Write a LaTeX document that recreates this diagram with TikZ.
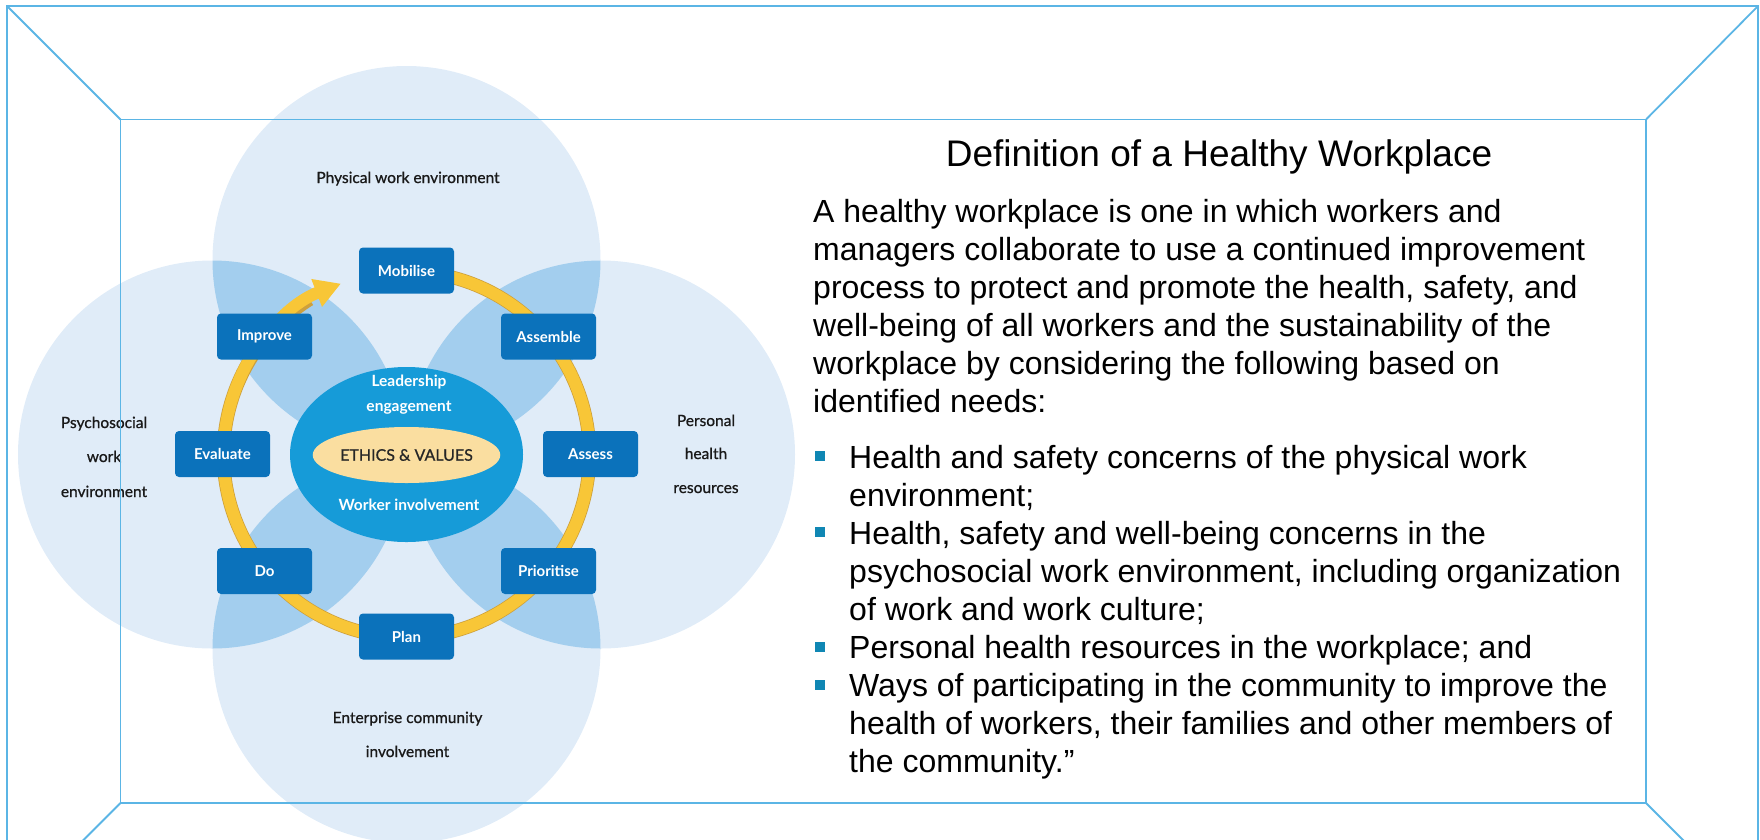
\documentclass[tikz,border=0pt]{standalone}
\usepackage{fontspec}
\setmainfont{Liberation Sans}
\newfontfamily\lato{Lato}
\newfontfamily\latomed[FakeBold=0.8]{Lato}
\usetikzlibrary{shapes.geometric,arrows.meta}
\definecolor{framec}{RGB}{91,181,229}
\definecolor{circc}{RGB}{224,236,248}
\definecolor{lensc}{RGB}{163,206,238}
\definecolor{boxc}{RGB}{11,114,187}
\definecolor{corec}{RGB}{22,155,216}
\definecolor{beige}{RGB}{250,222,160}
\definecolor{ringc}{RGB}{248,198,55}
\definecolor{ringedge}{RGB}{205,160,60}
\definecolor{bulc}{RGB}{16,135,180}
\begin{document}
\begin{tikzpicture}[x=1pt,y=-1pt,
  framel/.style={draw=framec, line width=1.8pt},
  petal/.style={fill=circc},
  lens/.style={fill=lensc},
  stepbox/.style={rounded corners=4pt, fill=boxc, minimum width=95pt, minimum height=46pt, inner sep=0pt, text=white, font=\lato\bfseries\fontsize{15}{17}\selectfont},
  lbl/.style={anchor=base, inner sep=0pt, text=black!90, font=\latomed\fontsize{15.5}{17}\selectfont},
  wlbl/.style={anchor=base, inner sep=0pt, text=white, font=\lato\bfseries\fontsize{15.5}{17}\selectfont},
  txt/.style={anchor=base west, inner sep=0pt, text=black, font=\fontsize{32}{38}\selectfont},
  bul/.style={fill=bulc, minimum size=10pt, inner sep=0pt}
]
\useasboundingbox (0,0) rectangle (1760,839);
\clip (0,0) rectangle (1760,839);
% petal circles
\coordinate (ctop) at (406.5,260);
\coordinate (cbot) at (406.5,649);
\coordinate (cleft) at (212,454.5);
\coordinate (cright) at (601,454.5);
\foreach \c in {ctop,cbot,cleft,cright} \fill[petal] (\c) circle[radius=194];
\begin{scope}
  \clip (ctop) circle[radius=194];
  \fill[lens] (cleft) circle[radius=194];
  \fill[lens] (cright) circle[radius=194];
\end{scope}
\begin{scope}
  \clip (cbot) circle[radius=194];
  \fill[lens] (cleft) circle[radius=194];
  \fill[lens] (cright) circle[radius=194];
\end{scope}
% core
\node[ellipse, fill=corec, minimum width=233pt, minimum height=175pt, inner sep=0pt] (core) at (406.5,454.5) {};
% ring
\draw[ringedge, line width=13.5pt] ([shift={(-78:183)}]core.center) arc[start angle=-78, end angle=238, radius=183];
\draw[ringc, line width=12pt, -{Triangle[length=26pt,width=28pt]}] ([shift={(-78:183)}]core.center) arc[start angle=-78, end angle=249, radius=183];
% inner ellipse
\node[ellipse, fill=beige, minimum width=157pt, minimum height=56pt, inner sep=0pt,
  font=\latomed\fontsize{16}{18}\selectfont, text=black!85] (ethics) at (406.5,455) {ETHICS \& VALUES};
\node[wlbl] (lead) at (409,386) {Leadership};
\node[wlbl] (eng) at (409,411) {engagement};
\node[wlbl] (work) at (409,510) {Worker involvement};
% steps
\node[stepbox] (mob) at (406.5,270.5) {Mobilise};
\node[stepbox] (asb) at (548.5,336.5) {Assemble};
\node[stepbox] (ass) at (590.5,454) {Assess};
\node[stepbox] (pri) at (548.5,571) {Prioritise};
\node[stepbox] (pla) at (406.5,636.5) {Plan};
\node[stepbox] (do) at (264.5,571) {Do};
\node[stepbox] (eva) at (222.5,454) {Evaluate};
\node[stepbox] (imp) at (264.5,336.5) {Improve};
% petal labels
\node[lbl] (phys) at (408,183) {Physical work environment};
\node[lbl] (psy1) at (104,428) {Psychosocial};
\node[lbl] (psy2) at (104,462) {work};
\node[lbl] (psy3) at (104,497) {environment};
\node[lbl] (per1) at (706,426) {Personal};
\node[lbl] (per2) at (706,459) {health};
\node[lbl] (per3) at (706,493) {resources};
\node[lbl] (ent1) at (407.5,723) {Enterprise community};
\node[lbl] (ent2) at (407.5,757) {involvement};
% frame
\coordinate (o1) at (7,6);
\coordinate (o2) at (1758,6);
\coordinate (i1) at (120.5,119.5);
\coordinate (i2) at (1646,119.5);
\coordinate (i3) at (1646,803);
\coordinate (i4) at (120.5,803);
\coordinate (b1) at (7,845);
\coordinate (b2) at (1758,845);
\coordinate (d3) at (1688,845);
\coordinate (d4) at (78.5,845);
\draw[framel] (b1) -- (o1) -- (o2) -- (b2);
\draw[framel] (o1) -- (i1);
\draw[framel] (o2) -- (i2);
\draw[framel] (i1) -- (i2) -- (i3) -- (i4) -- cycle;
\draw[framel] (i3) -- (d3);
\draw[framel] (i4) -- (d4);
% text
\node[anchor=base, inner sep=0pt, font=\fontsize{37}{44}\selectfont] (title) at (1219,166) {Definition of a Healthy Workplace};
\foreach \t [count=\i] in {
  {A healthy workplace is one in which workers and},
  {managers collaborate to use a continued improvement},
  {process to protect and promote the health, safety, and},
  {well-being of all workers and the sustainability of the},
  {workplace by considering the following based on},
  {identified needs:}}
  \node[txt] (p\i) at (813,184+38*\i) {\t};
\foreach \t [count=\i] in {
  {Health and safety concerns of the physical work},
  {environment;},
  {Health, safety and well-being concerns in the},
  {psychosocial work environment, including organization},
  {of work and work culture;},
  {Personal health resources in the workplace; and},
  {Ways of participating in the community to improve the},
  {health of workers, their families and other members of},
  {the community.”}}
  \node[txt] (l\i) at (849,430+38.1*\i) {\t};
\node[bul] (u1) at (820,456) {};
\node[bul] (u2) at (820,532) {};
\node[bul] (u3) at (820,647) {};
\node[bul] (u4) at (820,685) {};
\end{tikzpicture}
\end{document}
